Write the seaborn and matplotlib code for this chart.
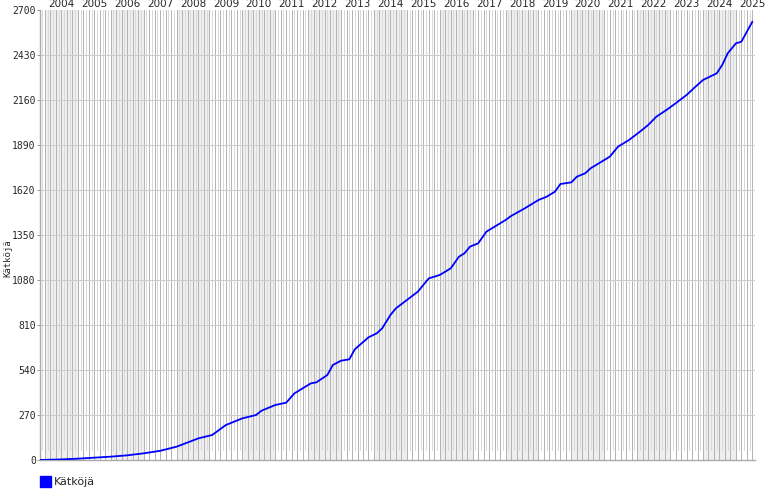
import matplotlib
matplotlib.use('Agg')
import matplotlib.pyplot as plt
import matplotlib.transforms as mtransforms
import pandas as pd
import seaborn as sns

# cumulative count
dates = ["2003-11", "2004-06", "2005-01", "2005-07", "2006-01", "2006-07", "2007-01",
         "2007-07", "2008-01", "2008-02", "2008-09", "2009-02", "2009-07", "2010-01",
         "2010-06", "2010-08", "2011-01", "2011-05", "2011-08", "2012-02", "2012-04",
         "2012-08", "2012-10", "2013-01", "2013-04", "2013-06", "2013-11", "2014-02",
         "2014-04", "2014-07", "2014-09", "2015-01", "2015-05", "2015-09", "2016-01",
         "2016-05", "2016-08", "2016-10", "2016-12", "2017-03", "2017-06", "2017-09",
         "2018-01", "2018-03", "2018-08", "2019-01", "2019-04", "2019-07", "2019-09",
         "2020-01", "2020-03", "2020-06", "2020-08", "2020-11", "2021-03", "2021-06",
         "2021-10", "2022-02", "2022-05", "2022-08", "2022-12", "2023-03", "2023-07",
         "2023-10", "2024-01", "2024-04", "2024-06", "2024-08", "2024-10", "2025-01",
         "2025-03", "2025-05", "2025-07"]
counts = [0, 3, 8, 14, 20, 28, 40,
          55, 80, 86, 130, 150, 210, 250,
          270, 296, 330, 344, 400, 460, 466,
          510, 570, 596, 604, 664, 736, 760,
          790, 870, 910, 960, 1010, 1090, 1110,
          1150, 1220, 1240, 1280, 1300, 1370, 1400,
          1440, 1464, 1510, 1560, 1580, 1610, 1656,
          1666, 1700, 1720, 1750, 1780, 1820, 1880,
          1920, 1970, 2010, 2060, 2104, 2140, 2190,
          2236, 2280, 2304, 2320, 2370, 2440, 2500,
          2510, 2570, 2630]
years = list(range(2004, 2026))
yticks = list(range(0, 2701, 270))
label = "Kätköjä"

d = pd.to_datetime(dates)
df = pd.DataFrame({"x": d.year + (d.month - 1) / 12.0, "y": counts})

sns.set_style("white")
fig = plt.figure(figsize=(7.7, 5), dpi=100)
ax = fig.add_axes([40 / 770, 40 / 500, 715 / 770, 450 / 500])

x0, x1 = 2003.85, 2025.58
ax.set_xlim(x0, x1)
ax.set_ylim(0, 2700)

px = 0.72  # one pixel in points

# shaded even years
for yr in years:
    if yr % 2 == 0:
        ax.axvspan(yr, min(yr + 1, x1), color="#efefef", lw=0, zorder=0)

# month lines: dark every other month, light in between
for yr in range(2003, 2026):
    for m in range(12):
        xm = yr + m / 12.0
        if xm <= x0 or xm >= x1:
            continue
        if m % 2 == 0:
            ax.axvline(xm, color="#b4b4b4", lw=px, zorder=1)
        else:
            ax.axvline(xm, ymin=10 / 450, color="#dadada", lw=px, zorder=1)

for yv in yticks[1:-1]:
    ax.axhline(yv, color="#cbcbcb", lw=px, zorder=2)

sns.lineplot(data=df, x="x", y="y", ax=ax, color="#0000ff", lw=1.3, zorder=3)

ax.set_xlabel("")
ax.set_ylabel("")
ax.set_xticks([])
ax.set_yticks(yticks)
ax.set_yticklabels([str(v) for v in yticks], family="DejaVu Sans Mono", fontsize=7)
ax.tick_params(axis="y", length=2, width=px, color="#999999", pad=1, left=True)
for s in ["top", "right"]:
    ax.spines[s].set_visible(False)
for s in ["left", "bottom"]:
    ax.spines[s].set_color("#aaaaaa")
    ax.spines[s].set_linewidth(1.0)

trans = mtransforms.blended_transform_factory(ax.transData, ax.transAxes)
for yr in years:
    ax.text(yr + 0.5, 1.003, str(yr), transform=trans, ha="center", va="bottom",
            fontsize=7.5, family="DejaVu Sans", clip_on=False)

fig.text(8 / 770, 1 - 258 / 500, label, rotation=90, ha="center", va="center",
         fontsize=6.5, family="DejaVu Sans Mono")

# legend
fig.patches.append(plt.Rectangle((40 / 770, 1 - 487 / 500), 11 / 770, 11 / 500,
                                 transform=fig.transFigure, color="#0000ff"))
fig.text(54 / 770, 1 - 482 / 500, label, ha="left", va="center", fontsize=8,
         family="DejaVu Sans")

fig.savefig("out.png", dpi=100)
